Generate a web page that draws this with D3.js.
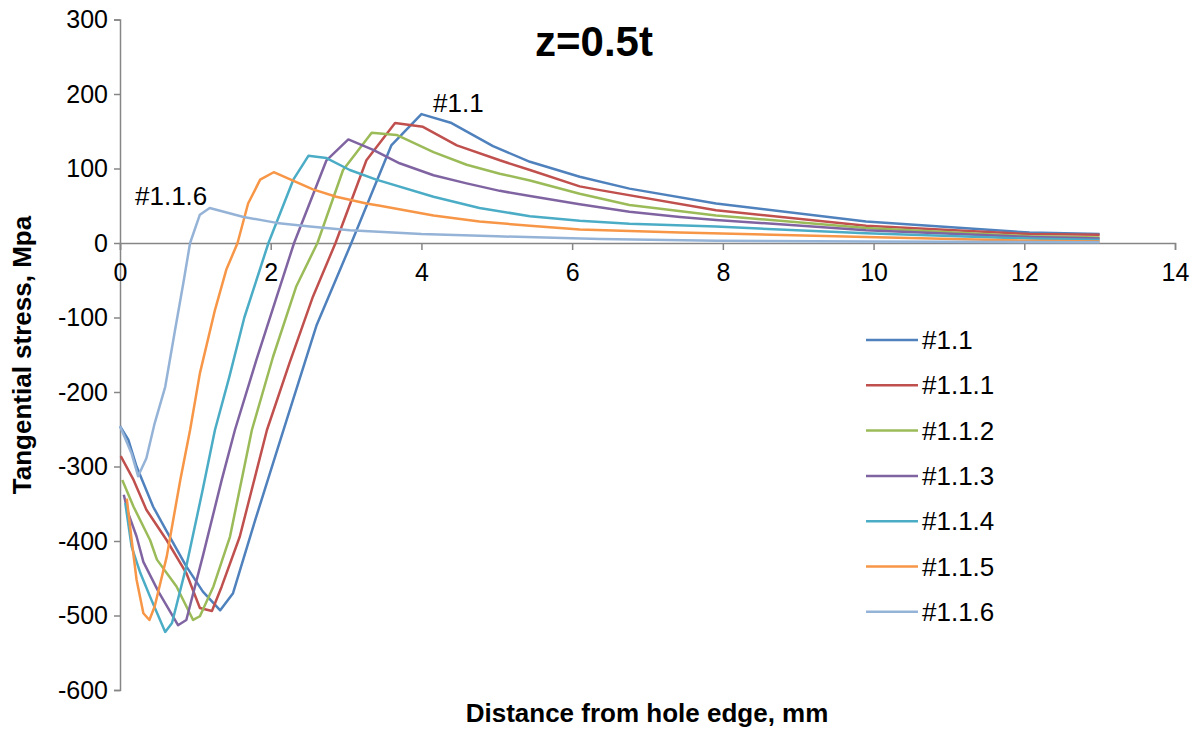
<!DOCTYPE html>
<html>
<head>
<meta charset="utf-8">
<script src="https://cdn.jsdelivr.net/npm/d3@7/dist/d3.min.js"></script>
<style>
  body { margin: 0; background: #fff; }
  text { font-family: "Liberation Sans", Arial, sans-serif; fill: #000; }
</style>
</head>
<body>
<svg id="chart" width="1199" height="730"></svg>
<script>
// values: [distance mm, stress MPa]
const s1_1 = [[0,-246],[0.11,-264],[0.22,-300],[0.44,-354],[0.62,-387],[0.88,-434],[1.1,-468],[1.33,-493],[1.5,-470],[1.8,-370],[2.17,-251],[2.61,-110],[3.07,0],[3.6,131],[4.0,173],[4.4,161],[4.95,130],[5.44,109],[6.1,89],[6.76,73],[7.91,53],[9.9,29],[12.07,14],[13,12]];
const s1_1_1 = [[0.01,-286],[0.18,-318],[0.35,-358],[0.62,-399],[0.88,-443],[1.06,-490],[1.22,-494],[1.35,-461],[1.59,-394],[1.95,-251],[2.25,-161],[2.56,-72],[2.86,0],[3.27,111],[3.65,161],[4.02,156],[4.47,131],[5.04,111],[5.44,98],[6.1,76],[6.37,71],[7.91,44],[9.9,23],[12.07,12],[13,11]];
const s1_1_2 = [[0.03,-318],[0.18,-354],[0.4,-399],[0.49,-425],[0.75,-461],[0.97,-506],[1.06,-501],[1.24,-461],[1.46,-394],[1.75,-251],[2.03,-153],[2.34,-58],[2.62,0],[2.96,98],[3.34,148],[3.67,145],[4.16,122],[4.6,105],[5.04,93],[5.44,84],[6.1,66],[6.76,51],[7.91,37],[9.9,20],[12.07,9],[13,7.5]];
const s1_1_3 = [[0.05,-338],[0.11,-363],[0.22,-394],[0.31,-428],[0.51,-468],[0.77,-513],[0.88,-506],[1.1,-420],[1.35,-318],[1.525,-251],[1.81,-157],[2.08,-72],[2.31,0],[2.74,111],[3.03,139],[3.36,125],[3.71,107],[4.16,91],[4.6,80],[5.04,70],[5.44,63],[6.1,52],[6.76,42],[7.43,35],[7.91,31],[9.9,17],[12.07,8],[13,6]];
const s1_1_4 = [[0.07,-349],[0.155,-408],[0.27,-443],[0.4,-475],[0.6,-522],[0.69,-510],[0.88,-434],[1.1,-330],[1.26,-251],[1.45,-180],[1.65,-100],[1.97,0],[2.3,85],[2.5,117],[2.74,114],[3.05,98],[3.4,85],[4.16,62],[4.77,47],[5.44,36],[6.1,30],[6.76,26],[7.91,22],[9.9,13],[12.07,6],[13,4]];
const s1_1_5 = [[0.09,-343],[0.155,-399],[0.22,-452],[0.31,-497],[0.39,-506],[0.46,-488],[0.62,-421],[0.8,-318],[0.93,-251],[1.06,-175],[1.26,-90],[1.41,-36],[1.56,0],[1.7,53],[1.86,85],[2.04,95],[2.56,72],[2.87,62],[3.27,53],[3.45,50],[4.16,37],[4.77,29],[5.44,23],[6.1,18],[7.43,14],[9.9,8],[12.07,3],[13,2]];
const s1_1_6 = [[0,-246],[0.155,-283],[0.24,-313],[0.35,-289],[0.46,-242],[0.6,-193],[0.73,-117],[0.84,-54],[0.93,0],[1.06,38],[1.19,47],[1.64,35],[2.08,27],[2.52,22],[3.05,17],[4.0,12],[5.0,9],[6.37,5.5],[7.91,3],[9.9,2],[13,1]];

const seriesNames = ["#1.1", "#1.1.1", "#1.1.2", "#1.1.3", "#1.1.4", "#1.1.5", "#1.1.6"];
const seriesData = [s1_1, s1_1_1, s1_1_2, s1_1_3, s1_1_4, s1_1_5, s1_1_6];
const colors = ["#4F81BD", "#C0504D", "#9BBB59", "#8064A2", "#4BACC6", "#F79646", "#95B3D7"];

const xTicks = [0, 2, 4, 6, 8, 10, 12, 14];
const yTicks = [300, 200, 100, 0, -100, -200, -300, -400, -500, -600];

const svg = d3.select("#chart");
const axisColor = "#868686";

const x = d3.scaleLinear().domain([0, 14]).range([120, 1175]);
const y = d3.scaleLinear().domain([-600, 300]).range([690, 19.5]);

// y axis on the left edge, plain hyphen for negatives
const yAxis = svg.append("g")
  .attr("transform", `translate(${x(0)},0)`)
  .call(d3.axisLeft(y).tickValues(yTicks).tickFormat(d => String(d)).tickSize(6).tickPadding(6));
yAxis.select(".domain").attr("stroke", axisColor).attr("stroke-width", 1.5);
yAxis.selectAll(".tick line").attr("stroke", axisColor).attr("stroke-width", 1.5);
yAxis.selectAll(".tick text").attr("font-size", 25).attr("fill", "#000")
  .attr("font-family", "Liberation Sans, Arial, sans-serif");

// x axis crosses at zero
const xAxis = svg.append("g")
  .attr("transform", `translate(0,${y(0)})`)
  .call(d3.axisBottom(x).tickValues(xTicks).tickFormat(d => String(d)).tickSize(7).tickPadding(13));
xAxis.select(".domain").attr("stroke", axisColor).attr("stroke-width", 1.5);
xAxis.selectAll(".tick line").attr("stroke", axisColor).attr("stroke-width", 1.5);
xAxis.selectAll(".tick text").attr("font-size", 25).attr("fill", "#000")
  .attr("font-family", "Liberation Sans, Arial, sans-serif");

// lines
const line = d3.line().x(d => x(d[0])).y(d => y(d[1]));
svg.append("g").selectAll("path")
  .data(seriesData)
  .enter().append("path")
  .attr("d", line)
  .attr("fill", "none")
  .attr("stroke", (d, i) => colors[i])
  .attr("stroke-width", 2.5)
  .attr("stroke-linejoin", "round");

// titles
svg.append("text").attr("x", 594).attr("y", 56)
  .attr("text-anchor", "middle").attr("font-size", 42).attr("font-weight", "bold")
  .text("z=0.5t");

svg.append("text").attr("x", 647).attr("y", 722)
  .attr("text-anchor", "middle").attr("font-size", 26).attr("font-weight", "bold")
  .text("Distance from hole edge, mm");

svg.append("text")
  .attr("transform", "translate(31,355) rotate(-90)")
  .attr("text-anchor", "middle").attr("font-size", 26).attr("font-weight", "bold")
  .text("Tangential stress, Mpa");

// labels on the curves
svg.append("text").attr("x", 433).attr("y", 112).attr("font-size", 26).text("#1.1");
svg.append("text").attr("x", 135).attr("y", 205).attr("font-size", 26).text("#1.1.6");

// legend
const legend = svg.append("g").selectAll("g")
  .data(seriesNames)
  .enter().append("g")
  .attr("transform", (d, i) => `translate(866,${340 + i * 45.3})`);
legend.append("line").attr("x1", 0).attr("x2", 52).attr("y1", 0).attr("y2", 0)
  .attr("stroke", (d, i) => colors[i]).attr("stroke-width", 2.5);
legend.append("text").attr("x", 56).attr("y", 9).attr("font-size", 26).text(d => d);
</script>
</body>
</html>
